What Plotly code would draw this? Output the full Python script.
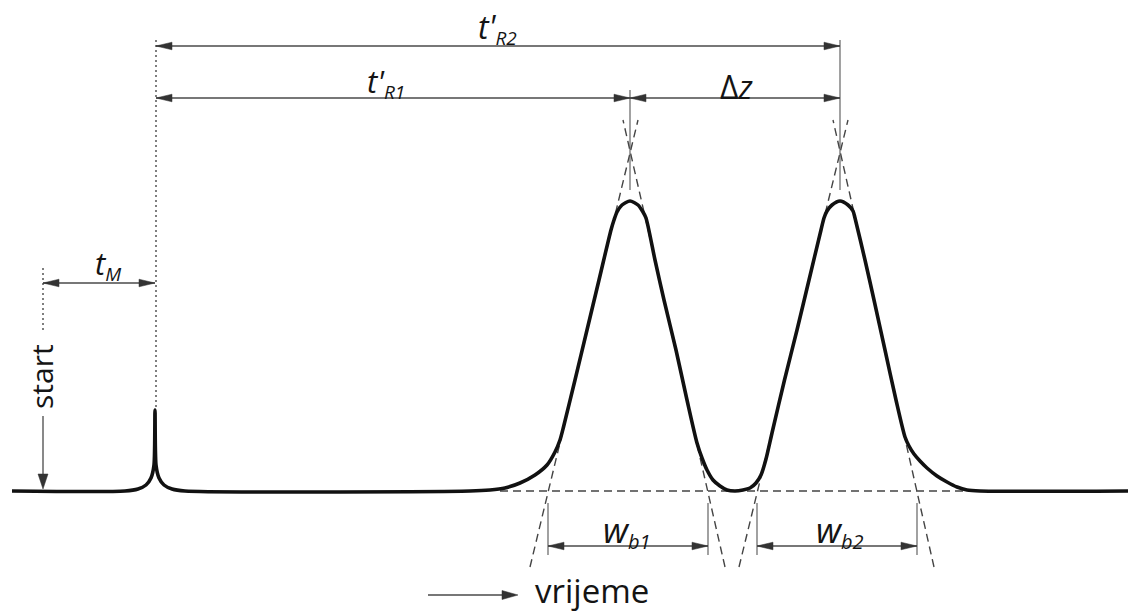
import plotly.graph_objects as go

# ---- data (time in px-like units, detector signal above baseline) ----
time = [12, 125, 138, 146, 151, 154, 155, 156, 159, 164, 172, 185,
        470, 490, 505, 520, 535, 547, 555, 560, 563.5, 575, 587, 599, 611,
        614, 617, 622, 630, 638, 643, 646, 655, 664, 676, 687, 697,
        702, 707, 713, 720, 727, 735, 743, 750, 756, 761, 766,
        772, 784.5, 797, 809, 821, 824, 827, 832, 840, 848, 853, 855,
        865, 874, 885, 896, 905, 909, 914, 920, 927, 937, 947, 957, 967,
        980, 1128]
signal = [0, 0, 2, 6, 13, 26, 81, 26, 13, 6, 2, 0,
          0, 1, 3, 8, 16, 26, 39, 51, 64, 111, 161, 211, 261,
          271, 279, 286, 290, 286, 279, 273, 231, 191, 141, 91, 48,
          33, 21, 11, 5, 1, 0, 1, 3, 8, 16, 32,
          58, 111, 161, 211, 261, 273, 280, 286, 290, 286, 280, 273,
          231, 191, 141, 91, 54, 45, 37, 30, 23, 15, 9, 4, 1,
          0, 0]

t_start = 43      # injection (start)
t_dead = 156      # dead-time peak
t_r1 = 630        # retention peak 1
t_r2 = 840        # retention peak 2
wb1_left, wb1_right = 548, 708
wb2_left, wb2_right = 757, 917

BASE = 491  # pixel row of baseline


def Y(py):
    return BASE - py


ARROW_COL = "#4a4a4a"
TXT_COL = "#141414"
FONT = "Open Sans"

shapes = []
annotations = []


def line(x0, py0, x1, py1, color=ARROW_COL, width=1.3, dash=None):
    ln = dict(color=color, width=width)
    if dash:
        ln["dash"] = dash
    shapes.append(dict(type="line", xref="x", yref="y", x0=x0, y0=Y(py0),
                       x1=x1, y1=Y(py1), line=ln, layer="below"))


def head(x, py, dx, dy, L=16, W=3.8, color="#333333"):
    bx, by = x - L * dx, py - L * dy
    px_, py_ = -dy, dx
    pts = [(x, py), (bx + W * px_, by + W * py_), (bx - W * px_, by - W * py_)]
    path = "M " + " L ".join(f"{a:.2f},{Y(b):.2f}" for a, b in pts) + " Z"
    shapes.append(dict(type="path", xref="x", yref="y", path=path,
                       fillcolor=color, line=dict(color=color, width=0.5),
                       layer="below"))


def harrow(xa, xb, py, both=True):
    line(xa, py, xb, py)
    head(xb, py, 1, 0)
    if both:
        head(xa, py, -1, 0)


def label(x, py, text, size=27, xanchor="center", angle=0):
    annotations.append(dict(x=x, y=Y(py), xref="x", yref="y", text=text,
                            showarrow=False, xanchor=xanchor, yanchor="middle",
                            textangle=angle,
                            font=dict(family=FONT, size=size, color=TXT_COL)))


def sized(s, px):
    return f"<span style='font-size:{px}px'>{s}</span>"


def sym(main, sub, main_px=31, sub_px=19):
    return sized(f"<i>{main}</i>", main_px) + "<sub>" + sized(f"<i>{sub}</i>", sub_px) + "</sub>"


# dotted guide lines
line(t_dead, 40, t_dead, 410, color="#555555", width=1.5, dash="2px,3px")
line(t_start, 268, t_start, 330, color="#555555", width=1.5, dash="2px,3px")

# tangents (dashed)
for (xa, ya, xb, yb) in [(530, 567, 638, 120), (725, 567, 623, 120),
                         (739, 567, 848, 120), (934, 567, 833, 120)]:
    line(xa, ya, xb, yb, color="#444444", width=1.4, dash="8px,5px")
line(500, 491, 972, 491, color="#444444", width=1.4, dash="8px,5px")

# vertical guides at peak maxima
line(t_r1, 90, t_r1, 190, color="#555555", width=1.1)
line(t_r2, 40, t_r2, 190, color="#555555", width=1.1)

# w_b tick lines
for xv in (wb1_left, wb1_right, wb2_left, wb2_right):
    line(xv, 503, xv, 555, color="#555555", width=1.1)

# arrows
harrow(t_dead, t_r2, 46)
harrow(t_dead, t_r1, 98)
harrow(t_r1, t_r2, 98)
harrow(t_start, t_dead - 1, 283)
harrow(wb1_left, wb1_right, 546)
harrow(wb2_left, wb2_right, 546)
# start arrow (down)
line(t_start, 416, t_start, 480)
head(t_start, 489, 0, 1, L=15, W=5)
# time arrow
line(428, 595, 505, 595)
head(518, 595, 1, 0, L=16, W=4.5)

# labels
label(497, 28, sym("t'", "R2", 32, 19))
label(386, 82, sym("t'", "R1", 31, 19))
label(108, 264, sym("t", "M", 31, 19))
label(737, 86, "Δ<i>z</i>", size=32)
label(627, 530, sym("w", "b1", 35, 20))
label(840, 530, sym("w", "b2", 35, 20))
label(41, 377, "start", size=30, angle=-90)
label(533, 590, "vrijeme", size=33, xanchor="left")

fig = go.Figure()
fig.add_trace(go.Scatter(x=time, y=signal, mode="lines",
                         line=dict(color="#111111", width=3.6,
                                   shape="spline", smoothing=0.7),
                         hoverinfo="skip"))

fig.update_layout(
    width=1128, height=614,
    margin=dict(l=0, r=0, t=0, b=0),
    paper_bgcolor="white", plot_bgcolor="white",
    showlegend=False,
    shapes=shapes, annotations=annotations,
    xaxis=dict(range=[0, 1128], visible=False, fixedrange=True),
    yaxis=dict(range=[BASE - 614, BASE], visible=False, fixedrange=True),
)

fig.write_html("out.html")
